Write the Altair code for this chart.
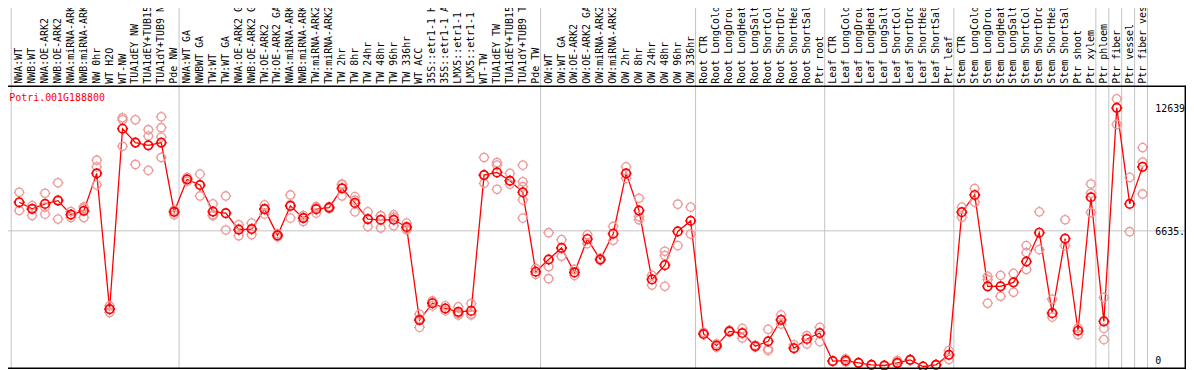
import altair as alt
import pandas as pd

labels = [
    "NWA:WT", "NWB:WT", "NWA:OE-ARK2", "NWB:OE-ARK2", "NWA:miRNA-ARK2", "NWB:miRNA-ARK2",
    "NW 0hr", "WT H2O", "WT-NW", "TUA1dEY NW", "TUA1dEY+TUB15 NW", "TUA1dY+TUB9 NW", "Pde NW",
    "NWA:WT GA", "NWBWT GA", "TW:WT", "TW:WT GA", "NWA:OE-ARK2 GA", "NWB:OE-ARK2 GA",
    "TW:OE-ARK2", "TW:OE-ARK2 GA", "NWA:miRNA-ARK2 GA", "NWB:miRNA-ARK2 GA", "TW:miRNA-ARK2",
    "TW:miRNA-ARK2 GA", "TW 2hr", "TW 8hr", "TW 24hr", "TW 48hr", "TW 96hr", "TW 336hr",
    "WT ACC", "35S::etr1-1 H2O", "35S::etr1-1 ACC", "LMX5::etr1-1 H2O", "LMX5::etr1-1 ACC",
    "WT-TW", "TUA1dEY TW", "TUA1dEY+TUB15 TW", "TUA1dY+TUB9 TW", "Pde TW",
    "OW:WT", "OW:WT GA", "OW:OE-ARK2", "OW:OE-ARK2 GA", "OW:miRNA-ARK2", "OW:miRNA-ARK2 GA",
    "OW 2hr", "OW 8hr", "OW 24hr", "OW 48hr", "OW 96hr", "OW 336hr",
    "Root CTR", "Root LongCold", "Root LongDrought", "Root LongHeat", "Root LongSalt",
    "Root ShortCold", "Root ShortDrought", "Root ShortHeat", "Root ShortSalt", "Ptr root",
    "Leaf CTR", "Leaf LongCold", "Leaf LongDrought", "Leaf LongHeat", "Leaf LongSalt",
    "Leaf ShortCold", "Leaf ShortDrought", "Leaf ShortHeat", "Leaf ShortSalt", "Ptr leaf",
    "Stem CTR", "Stem LongCold", "Stem LongDrought", "Stem LongHeat", "Stem LongSalt",
    "Stem ShortCold", "Stem ShortDrought", "Stem ShortHeat", "Stem ShortSalt",
    "Ptr shoot", "Ptr xylem", "Ptr phloem", "Ptr fiber", "Ptr vessel", "Ptr fiber vessel",
]

means = [
    8033, 7708, 7951, 8111, 7432, 7611, 9439, 2812, 11621, 10942, 10811, 10942, 7563,
    9148, 8872, 7577, 7500, 6690, 6724, 7694, 6414, 7854, 7257, 7694, 7771, 8712, 7999,
    7209, 7175, 7175, 6821, 2279, 3103, 2846, 2681, 2729, 9357, 9488, 9080, 8518, 4640,
    5236, 5803, 4606, 6239, 5236, 6496, 9439, 7626, 4266, 4960, 6608, 7127,
    1600, 1033, 1731, 1648, 1004, 1246, 2293, 907, 1357, 1648,
    276, 305, 194, 97, 63, 194, 339, 15, 97, 582,
    7548, 8387, 3927, 3927, 4121, 5139, 6545, 2618, 6254,
    1760, 8275, 2216, 12639, 7951, 9759,
]

replicates = [
    [8518, 8000, 7626], [7868, 7700, 7383], [8470, 7791, 7451], [8983, 8141, 7209],
    [7580, 7417, 7287], [7805, 7740, 7287], [10084, 9759, 8872], [2970, 2812, 2652],
    [12154, 12057, 10763], [12057, 10942, 9875], [11572, 11262, 9585],
    [12202, 11669, 11213, 10215], [7645, 7417],
    [9245, 9050], [9405, 8872, 8338], [7951, 7420, 7369], [8338, 7486, 6676],
    [6933, 6740, 6399], [7015, 6724, 6448], [7902, 7730, 7451], [6500, 6414, 6350],
    [8387, 7900, 7257], [7383, 7290, 7093], [7820, 7760, 7500], [7820, 7771, 7720],
    [8920, 8880, 8338], [8305, 8130, 7563], [7563, 7200, 6850], [7369, 7380, 6773],
    [7417, 7300, 6884], [7015, 6760, 6690], [2569, 2344, 1925], [3214, 3120, 2972],
    [2972, 2840, 2729], [2923, 2600, 2521], [3088, 2580, 2521], [10215, 9357, 8954],
    [9972, 9841, 8663], [9439, 9080, 8906], [9841, 9032, 8789, 8145, 7257], [4800, 4509],
    [6545, 4882, 4300], [6205, 5396], [4751, 4460], [6448, 6012], [5300, 5200],
    [6850, 6172], [9759, 9197], [8227, 7335, 7175], [4460, 3990], [5638, 5430, 3927],
    [7936, 5915], [7791, 6482],
    [1682, 1600], [1115, 955], [1780, 1700], [1876, 1406], [1050, 960],
    [1828, 873, 790], [2535, 2085], [1067, 907], [1517, 1115], [1925, 1227],
    [290, 276], [388, 242], [194, 180], [97, 90], [63, 60], [305, 145], [339, 330],
    [15, 20], [97, 90], [790, 354],
    [7791, 7300], [8033, 8700], [4412, 3103, 4250], [4460, 3442], [4557, 3636],
    [5915, 5575, 4751], [7563, 5720], [3297, 2424], [7175, 5915],
    [1891, 1566], [8920, 8470, 7529], [3379, 1876, 1323], [13075, 11829],
    [9245, 6593], [10700, 9987, 8436],
]

gene = "Potri.001G188800"
grid_after = [0, 13, 41, 53, 63, 73, 84, 85, 86, 87, 88]
y_ticks = [12639, 6635]
y_tick_text = ["12639", "6635."]

idx = list(range(1, len(labels) + 1))
df = pd.DataFrame({"idx": idx, "label": labels, "mean": means})
rep_rows = [{"idx": i, "value": v} for i, reps in zip(idx, replicates) for v in reps]
df_rep = pd.DataFrame(rep_rows)
df_grid = pd.DataFrame({"g": [g + 0.38 for g in grid_after]})
df_hgrid = pd.DataFrame({"v": [6635]})
df_ytxt = pd.DataFrame({"v": y_ticks, "t": y_tick_text})

W, H = 1194, 370
xs = alt.Scale(domain=[-0.4846, 91.3615], nice=False, zero=False)
ys = alt.Scale(domain=[-97, 17841], nice=False, zero=False)
MONO = "DejaVu Sans Mono"

shape = ("M-1,0A1,1,0,1,1,1,0A1,1,0,1,1,-1,0Z"
         "M0,-1.3L0,-0.95M0,0.95L0,1.3M-1.3,0L-0.95,0M0.95,0L1.3,0")

vgrid = alt.Chart(df_grid).mark_rule(color="#c4c4c4", strokeWidth=1).encode(
    x=alt.X("g:Q", scale=xs, axis=None), y=alt.value(0), y2=alt.value(H))
hgrid = alt.Chart(df_hgrid).mark_rule(color="#c4c4c4", strokeWidth=1).encode(
    y=alt.Y("v:Q", scale=ys, axis=None), x=alt.value(0), x2=alt.value(W))
border_top = alt.Chart(df_hgrid).mark_rule(color="black", strokeWidth=1.5).encode(
    x=alt.value(0), x2=alt.value(W), y=alt.value(85.5))
border_bot = alt.Chart(df_hgrid).mark_rule(color="black", strokeWidth=1.5).encode(
    x=alt.value(0), x2=alt.value(W), y=alt.value(369.5))
border_right = alt.Chart(df_hgrid).mark_rule(color="black", strokeWidth=1.5).encode(
    x=alt.value(1193.3), y=alt.value(85), y2=alt.value(H))

line = alt.Chart(df).mark_line(color="#ff0000", strokeWidth=1.3).encode(
    x=alt.X("idx:Q", scale=xs, axis=None), y=alt.Y("mean:Q", scale=ys, axis=None))
reps = alt.Chart(df_rep).mark_point(shape=shape, size=72, filled=False,
                                    color="#ec9a9a", strokeWidth=1.3, opacity=1).encode(
    x=alt.X("idx:Q", scale=xs, axis=None), y=alt.Y("value:Q", scale=ys, axis=None))
pts = alt.Chart(df).mark_point(shape=shape, size=72, filled=False,
                               color="#ff0000", strokeWidth=1.7, opacity=1).encode(
    x=alt.X("idx:Q", scale=xs, axis=None), y=alt.Y("mean:Q", scale=ys, axis=None))

top_labels = alt.Chart(df).mark_text(angle=270, align="left", baseline="middle",
                                     font=MONO, fontSize=10, color="black").encode(
    x=alt.X("idx:Q", scale=xs, axis=None), y=alt.value(83), text="label:N")
title = alt.Chart(df_hgrid).mark_text(align="left", baseline="middle", font=MONO,
                                      fontSize=10, color="#ff0000", text=gene).encode(
    x=alt.value(9.3), y=alt.value(97.5))
ytxt = alt.Chart(df_ytxt).mark_text(align="left", baseline="middle", font=MONO,
                                    fontSize=10, color="black", dy=1).encode(
    x=alt.value(1163), y=alt.Y("v:Q", scale=ys, axis=None), text="t:N")
ytxt0 = alt.Chart(pd.DataFrame({"v": [0], "t": ["0"]})).mark_text(
    align="left", baseline="middle", font=MONO, fontSize=10, color="black", dy=-6).encode(
    x=alt.value(1163), y=alt.Y("v:Q", scale=ys, axis=None), text="t:N")

chart = alt.layer(vgrid, hgrid, line, reps, pts, border_top, border_bot, border_right,
                  top_labels, title, ytxt, ytxt0).properties(
    width=W, height=H,
    autosize=alt.AutoSizeParams(type="none"),
    padding={"left": -8, "top": -8, "right": 0, "bottom": 0},
    background="white",
).configure_view(stroke=None)

chart.save("out.html", embed_options={"renderer": "svg", "actions": False})
